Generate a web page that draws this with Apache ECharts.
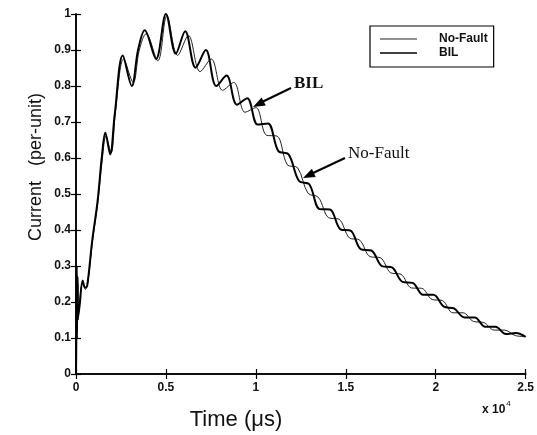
<!DOCTYPE html>
<html>
<head>
<meta charset="utf-8">
<script src="https://cdn.jsdelivr.net/npm/echarts@6/dist/echarts.min.js"></script>
<style>
  html, body { margin: 0; padding: 0; background: #fff; }
  #main { width: 537px; height: 435px; }
</style>
</head>
<body>
<div id="main"></div>
<script>
// time in units of 1e4 us, current in per-unit
var tBil = [0, 0.002, 0.004, 0.006, 0.009, 0.012, 0.02, 0.037, 0.05, 0.062, 0.09, 0.12, 0.145, 0.163, 0.19, 0.215, 0.26, 0.31, 0.345, 0.382, 0.445, 0.5, 0.555, 0.607, 0.665, 0.722, 0.78, 0.837, 0.895, 0.952, 1.01, 1.067, 1.125, 1.182, 1.24, 1.297, 1.355, 1.412, 1.47, 1.527, 1.585, 1.642, 1.7, 1.757, 1.815, 1.872, 1.93, 1.987, 2.045, 2.102, 2.16, 2.217, 2.275, 2.332, 2.39, 2.447, 2.5];
var iBil = [0, 0.11, 0.30, 0.12, 0.27, 0.16, 0.19, 0.26, 0.24, 0.245, 0.37, 0.48, 0.61, 0.67, 0.61, 0.72, 0.885, 0.80, 0.90, 0.955, 0.875, 1.0, 0.89, 0.952, 0.851, 0.90, 0.80, 0.829, 0.748, 0.766, 0.693, 0.696, 0.619, 0.61, 0.536, 0.527, 0.458, 0.457, 0.402, 0.398, 0.346, 0.343, 0.30, 0.296, 0.256, 0.253, 0.22, 0.22, 0.187, 0.182, 0.157, 0.157, 0.131, 0.131, 0.111, 0.114, 0.103];

var tNoFault = [0, 0.002, 0.004, 0.007, 0.01, 0.013, 0.02, 0.038, 0.052, 0.065, 0.092, 0.12, 0.147, 0.166, 0.195, 0.22, 0.265, 0.318, 0.352, 0.39, 0.455, 0.505, 0.565, 0.625, 0.69, 0.752, 0.815, 0.877, 0.94, 1.0, 1.06, 1.117, 1.175, 1.232, 1.29, 1.347, 1.405, 1.462, 1.52, 1.577, 1.635, 1.692, 1.75, 1.807, 1.865, 1.922, 1.98, 2.037, 2.095, 2.152, 2.21, 2.267, 2.325, 2.382, 2.44, 2.5];
var iNoFault = [0, 0.13, 0.28, 0.10, 0.25, 0.15, 0.20, 0.255, 0.235, 0.25, 0.37, 0.47, 0.60, 0.66, 0.615, 0.73, 0.875, 0.81, 0.90, 0.945, 0.87, 0.995, 0.885, 0.94, 0.84, 0.875, 0.788, 0.81, 0.727, 0.74, 0.663, 0.661, 0.581, 0.573, 0.502, 0.491, 0.434, 0.43, 0.378, 0.372, 0.326, 0.323, 0.281, 0.277, 0.239, 0.238, 0.207, 0.204, 0.17, 0.17, 0.146, 0.143, 0.122, 0.122, 0.107, 0.104];

function zip(xs, ys) {
    return xs.map(function (x, i) { return [x, ys[i]]; });
}

var myChart = echarts.init(document.getElementById('main'));

var axisLine = { lineStyle: { color: '#000', width: 1.5 } };
var tickIn = { inside: true, length: 5, lineStyle: { color: '#000', width: 1.2 } };
var labelFont = { color: '#111', fontFamily: 'Liberation Sans, Arial, sans-serif', fontWeight: 'bold', fontSize: 12 };

option = {
    animation: false,
    backgroundColor: '#fff',
    grid: { left: 76, right: 11, top: 14, bottom: 61 },
    legend: {
        data: [
            { name: 'No-Fault', icon: 'path://M0,0H37V1H0Z' },
            { name: 'BIL', icon: 'path://M0,0H37V1.6H0Z' }
        ],
        orient: 'vertical',
        left: 370,
        top: 26,
        padding: [7, 6, 8, 10],
        itemGap: 2,
        itemWidth: 37,
        itemHeight: 11,
        symbolKeepAspect: true,
        borderColor: '#000',
        borderWidth: 1.2,
        backgroundColor: '#fff',
        textStyle: { color: '#111', fontFamily: 'Liberation Sans, Arial, sans-serif', fontWeight: 'bold', fontSize: 12, lineHeight: 11, padding: [0, 0, 0, 17] }
    },
    xAxis: [{
        type: 'value', min: 0, max: 2.5, interval: 0.5,
        axisLine: axisLine, axisTick: tickIn, splitLine: { show: false },
        axisLabel: Object.assign({ margin: 8 }, labelFont)
    }, {
        type: 'value', min: 0, max: 2.5, interval: 0.5, position: 'top',
        axisLine: axisLine, axisTick: tickIn, splitLine: { show: false },
        axisLabel: { show: false }
    }],
    yAxis: [{
        type: 'value', min: 0, max: 1, interval: 0.1,
        axisLine: axisLine, axisTick: tickIn, splitLine: { show: false },
        axisLabel: Object.assign({
            margin: 5,
            formatter: function (v) { return (v === 0 || v === 1) ? String(v) : v.toFixed(1); }
        }, labelFont)
    }, {
        type: 'value', min: 0, max: 1, interval: 0.1, position: 'right',
        axisLine: axisLine, axisTick: tickIn, splitLine: { show: false },
        axisLabel: { show: false }
    }],
    series: [{
        name: 'No-Fault',
        type: 'line',
        symbol: 'none',
        smooth: 0.35,
        data: zip(tNoFault, iNoFault),
        itemStyle: { color: '#222' },
        lineStyle: { color: '#222', width: 1 }
    }, {
        name: 'BIL',
        type: 'line',
        symbol: 'none',
        smooth: 0.35,
        data: zip(tBil, iBil),
        itemStyle: { color: '#000' },
        lineStyle: { color: '#000', width: 2 }
    }],
    graphic: [
        {
            type: 'text', x: 36, y: 167, rotation: Math.PI / 2,
            style: { text: 'Current   (per-unit)', fontSize: 18, fontFamily: 'Liberation Sans, Arial, sans-serif', fill: '#111', align: 'center', verticalAlign: 'middle' }
        },
        {
            type: 'text', x: 236, y: 420,
            style: { text: 'Time (\u03bcs)', fontSize: 22, fontFamily: 'Liberation Sans, Arial, sans-serif', fill: '#111', align: 'center', verticalAlign: 'middle' }
        },
        {
            type: 'text', x: 482, y: 400,
            style: {
                text: '{a|x 10}{b|4}',
                rich: {
                    a: { fontSize: 12, fontWeight: 'bold', fontFamily: 'Liberation Sans, Arial, sans-serif', fill: '#111', verticalAlign: 'bottom' },
                    b: { fontSize: 8, fontFamily: 'Liberation Sans, Arial, sans-serif', fill: '#111', verticalAlign: 'top', padding: [0, 0, 8, 1] }
                }
            }
        },
        {
            type: 'text', x: 294, y: 84,
            style: { text: 'BIL', fontSize: 17, fontWeight: 'bold', fontFamily: 'Liberation Serif, Times New Roman, serif', fill: '#111', align: 'left', verticalAlign: 'middle' }
        },
        {
            type: 'text', x: 348, y: 154,
            style: { text: 'No-Fault', fontSize: 17, fontFamily: 'Liberation Serif, Times New Roman, serif', fill: '#111', align: 'left', verticalAlign: 'middle' }
        },
        { type: 'line', shape: { x1: 291, y1: 88, x2: 262, y2: 102 }, style: { stroke: '#000', lineWidth: 2 } },
        { type: 'polygon', shape: { points: [[253, 107], [265.8, 105.5], [261.6, 97.5]] }, style: { fill: '#000' } },
        { type: 'line', shape: { x1: 345, y1: 158, x2: 312, y2: 173.5 }, style: { stroke: '#000', lineWidth: 2 } },
        { type: 'polygon', shape: { points: [[303, 178], [315.7, 176.9], [311.9, 168.7]] }, style: { fill: '#000' } }
    ]
};

myChart.setOption(option);
</script>
</body>
</html>
